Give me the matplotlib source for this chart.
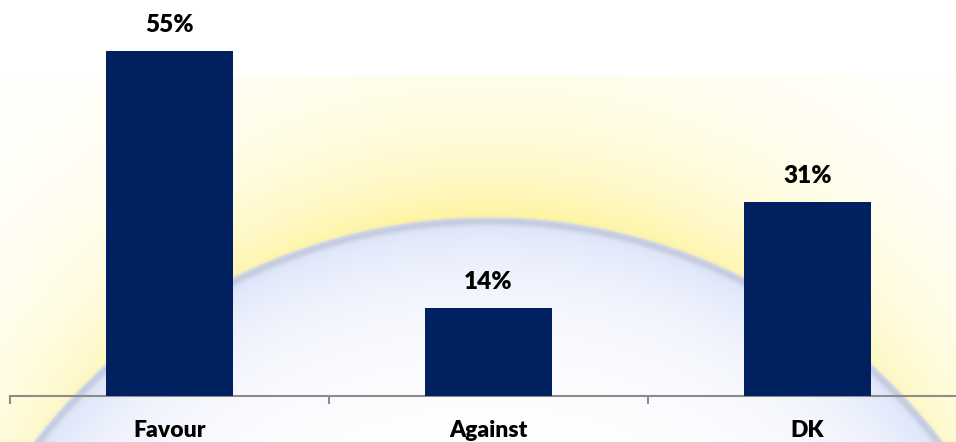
import numpy as np
import matplotlib
matplotlib.use("Agg")
import matplotlib.pyplot as plt
from matplotlib.ticker import FixedLocator

categories = ["Favour", "Against", "DK"]
values = [55, 14, 31]
value_labels = ["55%", "14%", "31%"]

W, H, DPI = 956, 442, 100
fig = plt.figure(figsize=(W / DPI, H / DPI), dpi=DPI)

# ---- decorative background (soft rainbow arch) ----
yy, xx = np.mgrid[0:H, 0:W].astype(float)
cx, cy, r = 488.0, 789.0, 572.0
d = np.hypot(xx - cx, yy - cy) - r
img = np.ones((H, W, 3))
inside = d < 0
t_in = np.clip(np.exp(d / 70.0), 0, 1)
blue = np.array([0.86, 0.89, 0.98])
for k in range(3):
    img[..., k] = np.where(inside, 1 - (1 - blue[k]) * t_in, img[..., k])
t_out = np.exp(-np.clip(d, 0, None) / 95.0)
ang = np.clip((cy - yy) / (np.hypot(xx - cx, yy - cy) + 1e-9), 0, 1)
strength = 0.35 + 0.45 * ang ** 3
yellow = np.array([1.0, 0.95, 0.55])
for k in range(3):
    img[..., k] = np.where(~inside, 1 - (1 - yellow[k]) * t_out * strength, img[..., k])
edge = np.exp(-((d + 4) / 4.0) ** 2)
grey = np.array([0.72, 0.74, 0.80])
for k in range(3):
    img[..., k] = img[..., k] * (1 - 0.6 * edge) + grey[k] * 0.6 * edge
img[:75, :, :] = 1.0
bg = fig.add_axes([0, 0, 1, 1])
bg.imshow(img, aspect="auto", extent=(0, W, H, 0), interpolation="bilinear")
bg.axis("off")

# ---- chart ----
ax = fig.add_axes([10 / W, 46 / H, 1 - 10 / W, 396 / H])
ax.patch.set_alpha(0)
x = np.arange(len(categories))
ax.bar(x, values, width=0.4, color="#002060", zorder=3)
ax.set_xlim(-0.5, (W - 10) / 319.0 - 0.5)
ax.set_ylim(0, 396 / 6.27)

for xi, v, lab in zip(x, values, value_labels):
    ax.annotate(lab, (xi, v), xytext=(0, 13.7), textcoords="offset points",
                ha="center", va="baseline", fontsize=17.5, fontweight="heavy",
                family="Lato", color="#000000")

for s in ["top", "right", "left"]:
    ax.spines[s].set_visible(False)
ax.spines["bottom"].set_color("#8c8c8c")
ax.spines["bottom"].set_linewidth(1.5)
ax.set_yticks([])
ax.set_xticks(x)
ax.set_xticklabels(categories, fontsize=16.5, fontweight="heavy", family="Lato")
ax.tick_params(axis="x", which="major", length=0, pad=17.5)
ax.xaxis.set_minor_locator(FixedLocator([-0.5, 0.5, 1.5, 2.5]))
ax.tick_params(axis="x", which="minor", length=6, width=1.5, color="#8c8c8c")

fig.savefig("out.png", dpi=DPI)
